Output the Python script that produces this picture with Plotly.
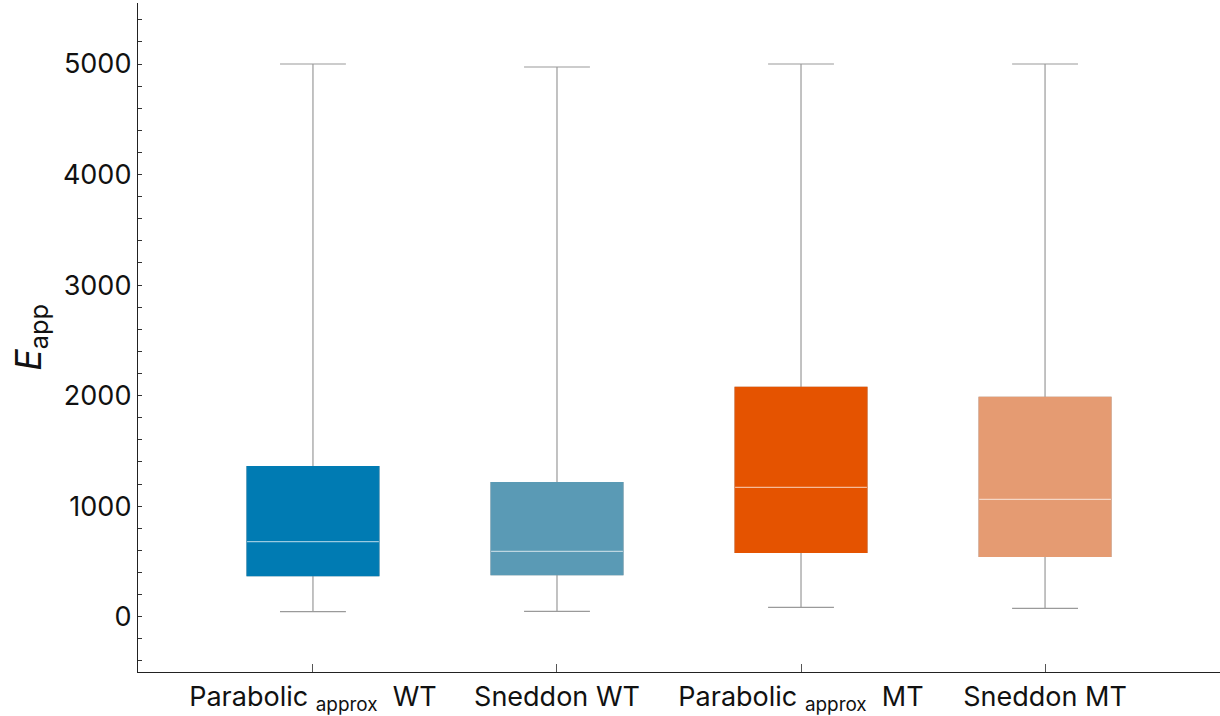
import plotly.graph_objects as go

# Summary statistics per group
groups = ["Parabolic <sub>approx</sub>\u00a0\u00a0WT", "Sneddon WT",
          "Parabolic <sub>approx</sub>\u00a0\u00a0MT", "Sneddon MT"]
q1 = [371, 380, 582, 546]
median = [679, 591, 1171, 1062]
q3 = [1359, 1214, 2074, 1984]
lower_whisker = [47, 48, 84, 75]
upper_whisker = [5000, 4973, 5000, 5000]
colors = ["#007BB3", "#5A9AB5", "#E55300", "#E59B72"]

positions = list(range(len(groups)))
box_width = 0.54
font_family = "Inter, 'Noto Sans', sans-serif"

fig = go.Figure()

for i, pos in enumerate(positions):
    # whiskers and caps (gray)
    fig.add_trace(go.Box(
        x=[pos], q1=[q1[i]], median=[median[i]], q3=[q3[i]],
        lowerfence=[lower_whisker[i]], upperfence=[upper_whisker[i]],
        width=box_width, whiskerwidth=0.5,
        line=dict(color="#9a9a9a", width=1.2),
        fillcolor="rgba(0,0,0,0)", boxpoints=False,
        showlegend=False, hoverinfo="skip",
    ))
    # filled interquartile body
    fig.add_trace(go.Box(
        x=[pos], q1=[q1[i]], median=[median[i]], q3=[q3[i]],
        lowerfence=[q1[i]], upperfence=[q3[i]],
        width=box_width, whiskerwidth=0,
        line=dict(color=colors[i], width=1.2),
        fillcolor=colors[i], boxpoints=False,
        showlegend=False, hoverinfo="skip",
    ))
    # median line
    fig.add_trace(go.Scatter(
        x=[pos - box_width / 2, pos + box_width / 2],
        y=[median[i], median[i]],
        mode="lines", line=dict(color="rgba(255,255,255,0.6)", width=1.2),
        showlegend=False, hoverinfo="skip",
    ))

fig.update_layout(
    width=1220, height=716,
    margin=dict(l=138, r=0, t=3, b=44),
    plot_bgcolor="white", paper_bgcolor="white",
    boxmode="overlay",
    font=dict(family=font_family, color="#111111", size=27),
)

fig.update_xaxes(
    range=[-0.717, 3.717],
    tickmode="array", tickvals=positions, ticktext=groups,
    ticks="inside", ticklen=8, tickwidth=1, tickcolor="#555555",
    showline=True, linecolor="#222222", linewidth=1.3,
    showgrid=False, zeroline=False,
    tickfont=dict(size=27),
)

fig.update_yaxes(
    range=[-500, 5552],
    tickmode="linear", tick0=0, dtick=1000,
    ticks="inside", ticklen=4, tickwidth=1, tickcolor="#333333",
    minor=dict(ticks="inside", ticklen=4, tickwidth=1, tickcolor="#333333",
               dtick=200, tick0=0, showgrid=False),
    showline=True, linecolor="#222222", linewidth=1.3,
    showgrid=False, zeroline=False,
    tickfont=dict(size=27),
    title=dict(text="<i>E</i><sub>app</sub>", font=dict(size=36), standoff=10),
)

fig.write_html("out.html")
